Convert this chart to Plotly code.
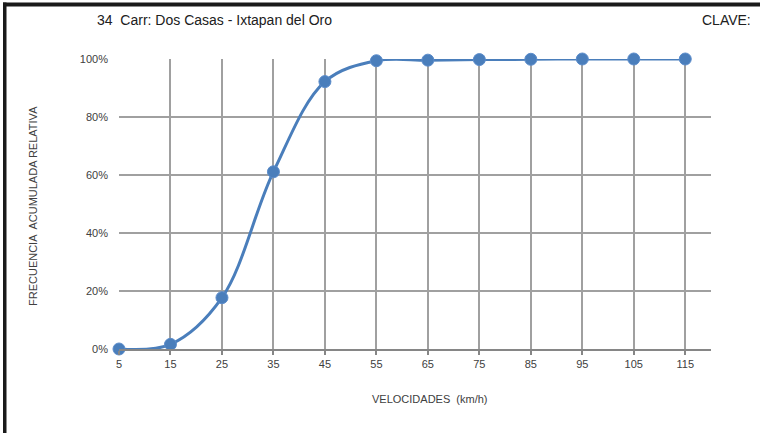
import plotly.graph_objects as go

velocidades = [5, 15, 25, 35, 45, 55, 65, 75, 85, 95, 105, 115]
frecuencia = [0.0, 0.016, 0.177, 0.611, 0.922, 0.994, 0.996, 0.998, 0.999, 1.0, 1.0, 1.0]
x_ticks = [5, 15, 25, 35, 45, 55, 65, 75, 85, 95, 105, 115]
y_ticks = [0, 0.2, 0.4, 0.6, 0.8, 1.0]

W, H = 760, 433
ML, MR, MT, MB = 119, 49, 59, 84
PW, PH = W - ML - MR, H - MT - MB

def px(xp):
    return (xp - ML) / PW

def py(yp):
    return (H - MB - yp) / PH

FONT = "Liberation Sans Narrow, Arial Narrow, Liberation Sans, Arial, sans-serif"
BLUE = "#4a7ebb"
GRID = "#a0a0a0"

fig = go.Figure()
fig.add_trace(go.Scatter(
    x=velocidades, y=frecuencia, mode="lines+markers",
    line=dict(color=BLUE, width=3, shape="spline", smoothing=1.0),
    marker=dict(color=BLUE, size=12, line=dict(color="#5b8ccb", width=1)),
    cliponaxis=False, showlegend=False, hoverinfo="skip"))

fig.update_layout(
    width=W, height=H,
    margin=dict(l=ML, r=MR, t=MT, b=MB),
    paper_bgcolor="white", plot_bgcolor="white",
    font=dict(family=FONT, color="#404040", size=11),
    xaxis=dict(range=[5, 120], tickvals=x_ticks, ticktext=[str(v) for v in x_ticks],
               showgrid=True, gridcolor=GRID, gridwidth=1.5,
               showline=True, linecolor="#868686", linewidth=2,
               ticks="outside", ticklen=4, tickcolor="#868686", tickwidth=1.5,
               zeroline=False, tickfont=dict(size=11, color="#404040")),
    yaxis=dict(range=[0, 1], tickvals=y_ticks, tickformat=".0%",
               showgrid=True, gridcolor=GRID, gridwidth=1.5,
               showline=False, zeroline=False, ticks="", ticklabelstandoff=10,
               tickfont=dict(size=11, color="#404040")),
    annotations=[
        dict(text="34  Carr: Dos Casas - Ixtapan del Oro", x=px(95), y=py(20), xref="paper", yref="paper",
             xanchor="left", yanchor="middle", showarrow=False, font=dict(size=14, color="#202020")),
        dict(text="CLAVE:", x=px(753), y=py(20), xref="paper", yref="paper",
             xanchor="right", yanchor="middle", showarrow=False, font=dict(size=14, color="#202020")),
        dict(text="FRECUENCIA  ACUMULADA RELATIVA", x=px(33), y=py(206), xref="paper", yref="paper",
             xanchor="center", yanchor="middle", textangle=-90, showarrow=False,
             font=dict(size=11, color="#404040")),
        dict(text="VELOCIDADES  (km/h)", x=px(430), y=py(399), xref="paper", yref="paper",
             xanchor="center", yanchor="middle", showarrow=False,
             font=dict(size=11, color="#404040")),
    ],
    shapes=[
        dict(type="rect", xref="paper", yref="paper", x0=px(3), x1=px(760), y0=py(6.5), y1=py(2.5),
             fillcolor="#1a1a1a", line=dict(width=0), layer="above"),
        dict(type="rect", xref="paper", yref="paper", x0=px(3), x1=px(6.5), y0=py(433), y1=py(2.5),
             fillcolor="#1a1a1a", line=dict(width=0), layer="above"),
    ],
)

fig.write_html("out.html", config={"displayModeBar": False},
               post_script="document.body.style.margin='0';document.body.style.overflow='hidden';")
